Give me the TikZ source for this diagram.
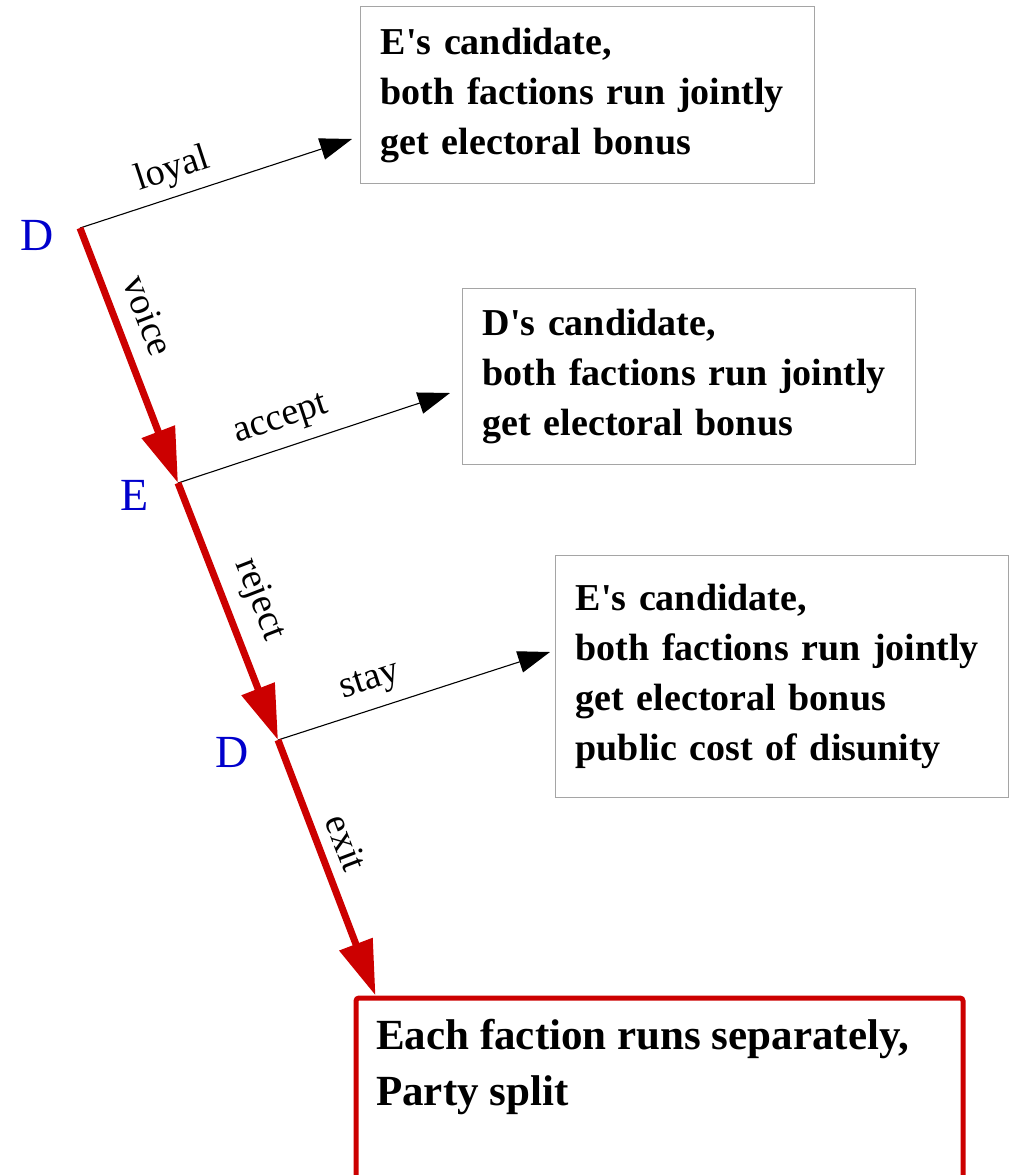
\documentclass[tikz,border=0pt]{standalone}
\usepackage{fontspec}
\setmainfont{Liberation Serif}
\usetikzlibrary{arrows.meta,calc}
\definecolor{dred}{RGB}{204,0,0}
\definecolor{dblue}{RGB}{0,0,204}
\definecolor{bgray}{RGB}{165,165,165}
\newcommand{\apos}{\textquotesingle}
\tikzset{
  player/.style={text=dblue, font=\fontsize{46}{50}\selectfont, inner sep=0pt},
  lbl/.style={text=black, font=\fontsize{38}{42}\selectfont, inner sep=3pt},
  outcome/.style={draw=bgray, line width=1.3pt, align=left, anchor=north west,
    inner xsep=20pt, font=\fontsize{38}{50}\selectfont\bfseries},
  choice/.style={black, line width=1.1pt, -{Triangle[length=32pt,width=22pt]}},
  mainpath/.style={dred, line width=7pt, -{Triangle[length=55pt,width=34pt]}},
  splitbox/.style={draw=dred, line width=5pt, rounded corners=3pt, anchor=north west},
}
\begin{document}
\begin{tikzpicture}[x=1pt,y=-1pt]
\useasboundingbox (0,0) rectangle (1014,1175);
% decision points
\coordinate (d1) at (80,228);
\coordinate (e1) at (178,483);
\coordinate (d2) at (278,740);
\node[player] (pD1) at (37,235) {D};
\node[player] (pE) at (135,495) {E};
\node[player] (pD2) at (232,752) {D};
% outcome boxes
\node[outcome, minimum width=454pt, minimum height=177pt, text width=414pt] (o1) at (360,6)
  {E\apos s candidate,\\both factions run jointly\\get electoral bonus};
\node[outcome, minimum width=453pt, minimum height=176pt, text width=413pt] (o2) at (462,288)
  {D\apos s candidate,\\both factions run jointly\\get electoral bonus};
\node[outcome, minimum width=453pt, minimum height=242pt, text width=413pt] (o3) at (555,555)
  {E\apos s candidate,\\both factions run jointly\\get electoral bonus\\public cost of disunity};
\node[splitbox, minimum width=607pt, minimum height=210pt] (split) at (353.5,995.5) {};
\node[anchor=north west, align=left, inner sep=0pt, font=\fontsize{43}{56}\selectfont\bfseries] (splittext) at (376,1019)
  {Each faction runs separately,\\Party split};
% arrow end points
\coordinate (t1) at (352,139);
\coordinate (t2) at (450,393);
\coordinate (t3) at (550,652);
\coordinate (t4) at ($(split.north west)+(22,0)$);
% connectors
\draw[choice] (d1) -- node[lbl, above=5pt, sloped, pos=0.37] (lloyal) {loyal} (t1);
\draw[choice] (e1) -- node[lbl, above=8pt, sloped, pos=0.41] (laccept) {accept} (t2);
\draw[choice] (d2) -- node[lbl, above=8pt, sloped, pos=0.37] (lstay) {stay} (t3);
\draw[mainpath] (d1) -- node[lbl, above=13pt, sloped, pos=0.39] (lvoice) {voice} (e1);
\draw[mainpath] (e1) -- node[lbl, above=10pt, sloped, pos=0.50] (lreject) {reject} (d2);
\draw[mainpath] (d2) -- node[lbl, above=8pt, sloped, pos=0.44] (lexit) {exit} (t4);
\end{tikzpicture}
\end{document}
